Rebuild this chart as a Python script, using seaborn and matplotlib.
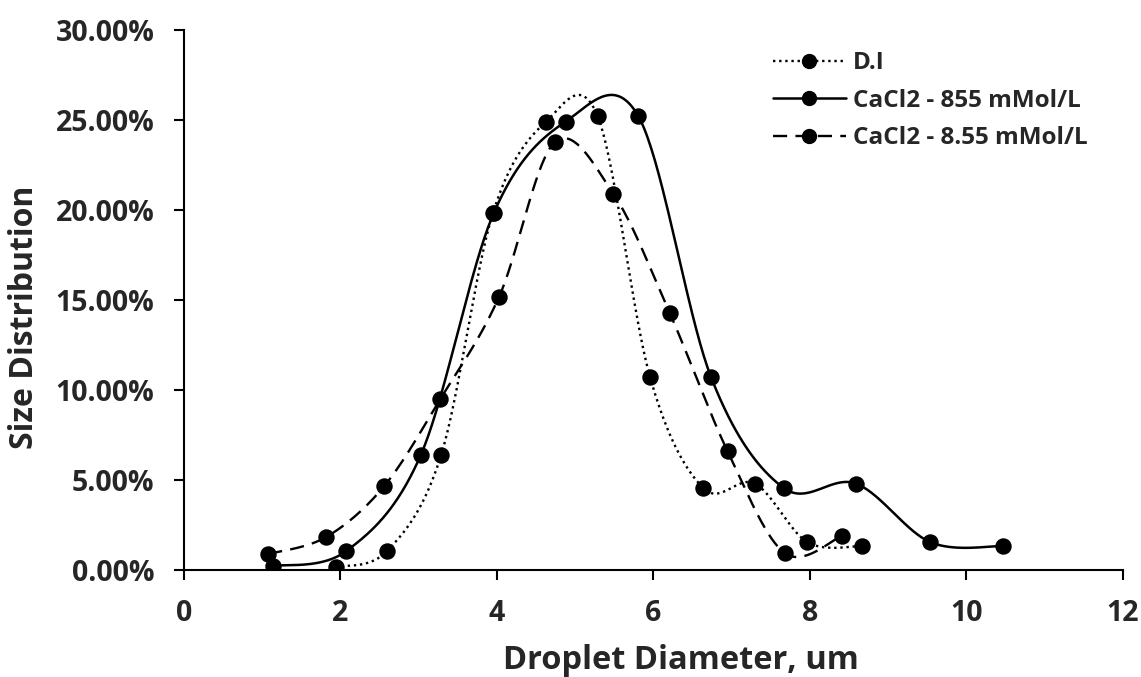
import numpy as np
import pandas as pd
import matplotlib
matplotlib.use("Agg")
import matplotlib.pyplot as plt
from matplotlib.lines import Line2D
from matplotlib.ticker import FuncFormatter
import seaborn as sns

# values (droplet diameter in um, size distribution in %)
di_x = [1.94, 2.60, 3.29, 3.95, 4.63, 5.29, 5.96, 6.64, 7.30, 7.97, 8.67]
di_y = [0.17, 1.06, 6.39, 19.80, 24.90, 25.20, 10.70, 4.55, 4.80, 1.55, 1.33]

cacl_hi_x = [1.14, 2.08, 3.03, 3.96, 4.88, 5.81, 6.74, 7.67, 8.59, 9.54, 10.47]
cacl_hi_y = [0.22, 1.06, 6.39, 19.80, 24.90, 25.20, 10.70, 4.55, 4.80, 1.55, 1.33]

cacl_lo_x = [1.08, 1.82, 2.56, 3.28, 4.03, 4.74, 5.49, 6.21, 6.95, 7.68, 8.41]
cacl_lo_y = [0.89, 1.83, 4.65, 9.50, 15.17, 23.75, 20.90, 14.28, 6.60, 0.94, 1.89]

series_names = ["D.I", "CaCl2 - 855 mMol/L", "CaCl2 - 8.55 mMol/L"]
x_ticks = [0, 2, 4, 6, 8, 10, 12]
y_ticks = [0, 5, 10, 15, 20, 25, 30]


def smooth_curve(x, y, n=40):
    # Excel-like smoothed line: cubic bezier through the points (catmull-rom tangents)
    pts = np.column_stack([x, y])
    p = np.vstack([pts[0], pts, pts[-1]])
    t = np.linspace(0, 1, n)[:, None]
    segs = []
    for i in range(1, len(p) - 2):
        p0, p1, p2, p3 = p[i - 1], p[i], p[i + 1], p[i + 2]
        c1 = p1 + (p2 - p0) / 6
        c2 = p2 - (p3 - p1) / 6
        segs.append((1 - t) ** 3 * p1 + 3 * (1 - t) ** 2 * t * c1 + 3 * (1 - t) * t ** 2 * c2 + t ** 3 * p2)
    return np.vstack(segs)


sns.set_theme(style="ticks")
plt.rcParams['font.family'] = ['Open Sans', 'DejaVu Sans']
plt.rcParams['font.weight'] = 'bold'

fig = plt.figure(figsize=(11.41, 6.77), dpi=100)
ax = fig.add_axes([0.161, 0.158, 0.823, 0.798])

styles = [
    dict(linestyle=(0, (1, 1.6)), linewidth=1.7),
    dict(linestyle='-', linewidth=1.8),
    dict(linestyle=(0, (6, 3.5)), linewidth=1.7),
]
data = [(di_x, di_y), (cacl_hi_x, cacl_hi_y), (cacl_lo_x, cacl_lo_y)]

handles = []
for name, (xs, ys), st in zip(series_names, data, styles):
    curve = smooth_curve(xs, ys)
    cdf = pd.DataFrame({"x": curve[:, 0], "y": curve[:, 1]})
    sns.lineplot(data=cdf, x="x", y="y", sort=False, estimator=None, color="black",
                 ax=ax, **st)
    pdf = pd.DataFrame({"x": xs, "y": ys})
    sns.scatterplot(data=pdf, x="x", y="y", color="black", s=140, linewidth=0,
                    ax=ax, zorder=3)
    handles.append(Line2D([], [], color="black", marker="o", markersize=10, **st))

ax.set_xlim(0, 12)
ax.set_ylim(0, 30)
ax.set_xticks(x_ticks)
ax.set_yticks(y_ticks)
ax.yaxis.set_major_formatter(FuncFormatter(lambda v, _: f"{v:.2f}%"))

for s in ["top", "right"]:
    ax.spines[s].set_visible(False)
for s in ["left", "bottom"]:
    ax.spines[s].set_linewidth(1.5)
    ax.spines[s].set_color("black")
ax.tick_params(axis="both", length=7, width=1.5, color="black", labelsize=20.5)
ax.tick_params(axis="y", pad=14)
ax.tick_params(axis="x", pad=14)
for lab in ax.get_xticklabels() + ax.get_yticklabels():
    lab.set_fontweight("bold")

ax.set_xlabel("Droplet Diameter, um", fontsize=23.5, fontweight="bold")
ax.set_ylabel("Size Distribution", fontsize=23, fontweight="bold")
ax.xaxis.label.set_va("center")
ax.yaxis.label.set_va("center")
ax.xaxis.set_label_coords(0.53, -0.167)
ax.yaxis.set_label_coords(-0.1695, 0.467)

leg = ax.legend(handles, series_names, loc="upper left", bbox_to_anchor=(0.617, 0.978),
                frameon=False, handlelength=3.0, fontsize=17.5, labelspacing=0.55,
                handletextpad=0.3, borderaxespad=0)
for t in leg.get_texts():
    t.set_fontweight("bold")

fig.savefig("out.png", dpi=100, facecolor="white")
